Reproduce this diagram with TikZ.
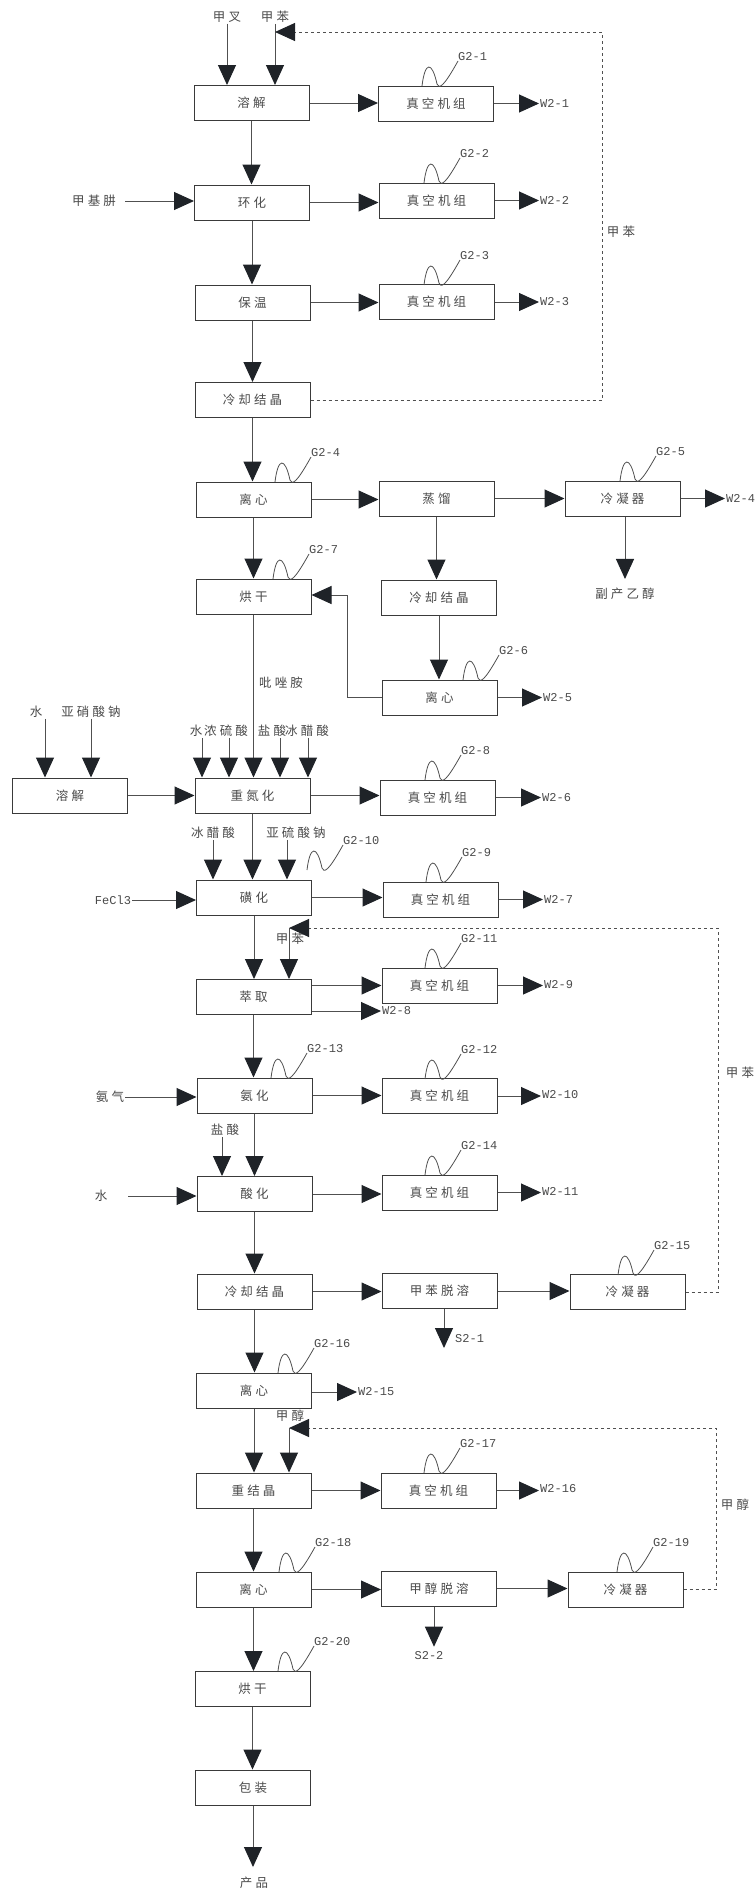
\documentclass[tikz,border=0pt]{standalone}
\usepackage{fontspec}
\usetikzlibrary{arrows.meta,calc}
\newfontfamily\cjk[LetterSpace=25]{Noto Sans CJK SC}
\newfontfamily\lat{Liberation Mono}
\definecolor{txt}{HTML}{4A4A4A}
\definecolor{edgec}{HTML}{3A3A3A}
\definecolor{lnc}{HTML}{505050}
\definecolor{tipc}{HTML}{1F2328}
\tikzset{
  box/.style={draw=edgec, line width=1pt, minimum width=115pt, minimum height=35pt, inner sep=0pt,
    font=\cjk\fontsize{12.5}{12.5}\selectfont, text=txt},
  lbl/.style={font=\cjk\fontsize{12.5}{12.5}\selectfont, text=txt, inner sep=1pt},
  code/.style={font=\lat\fontsize{12}{12}\selectfont, text=txt, inner sep=1pt},
  arr/.style={draw=lnc, line width=1pt, -{Triangle[length=20pt,width=18pt,color=tipc]}},
  dasharr/.style={arr, dash pattern=on 3pt off 3pt},
  wave/.style={draw=lnc, line width=0.8pt},
}
\newcommand{\gwave}[4]{%
  \begin{scope}[shift={(#2,#3)}]
    \draw[wave] (0,0) .. controls (3,-25) and (10,-25) .. (15,-2) .. controls (17,3) and (21,2) .. (36,-25);
    \node[code,anchor=west] (#1) at (35,-29) {#4};
  \end{scope}}
\begin{document}
\begin{tikzpicture}[x=1pt,y=-1pt]
\useasboundingbox (0,0) rectangle (755,1890);
% main column
\node[box] (A1) at (251.5,103) {溶解};
\node[box] (A2) at (252,202.5) {环化};
\node[box] (A3) at (252.5,302.5) {保温};
\node[box] (A4) at (252.5,400) {冷却结晶};
\node[box] (A5) at (253.5,499.5) {离心};
\node[box] (A6) at (253.5,596.5) {烘干};
\node[box] (A7) at (252.5,795.5) {重氮化};
\node[box] (A8) at (254,897.5) {磺化};
\node[box] (A9) at (253.5,997) {萃取};
\node[box] (A10) at (254.5,1095.5) {氨化};
\node[box] (A11) at (254.5,1194) {酸化};
\node[box] (A12) at (254.5,1291.5) {冷却结晶};
\node[box] (A13) at (254,1390.5) {离心};
\node[box] (A14) at (253.5,1490.5) {重结晶};
\node[box] (A15) at (253.5,1589.5) {离心};
\node[box] (A16) at (252.5,1689) {烘干};
\node[box] (A17) at (253,1787.5) {包装};
% second column
\node[box] (V1) at (436,103.5) {真空机组};
\node[box] (V2) at (436.5,200.5) {真空机组};
\node[box] (V3) at (436.5,302) {真空机组};
\node[box] (B1) at (436.5,498.5) {蒸馏};
\node[box] (B2) at (439,597.5) {冷却结晶};
\node[box] (B3) at (439.5,697.5) {离心};
\node[box] (V8) at (437.5,797.5) {真空机组};
\node[box] (V9) at (440.5,899.5) {真空机组};
\node[box] (V11) at (439.5,985.5) {真空机组};
\node[box] (V12) at (439.5,1096) {真空机组};
\node[box] (V14) at (439.5,1192.5) {真空机组};
\node[box] (C1) at (439.5,1291) {甲苯脱溶};
\node[box] (V17) at (438.5,1490.5) {真空机组};
\node[box] (C2) at (439,1588.5) {甲醇脱溶};
% third column
\node[box] (K1) at (622.5,498.5) {冷凝器};
\node[box] (K2) at (627.5,1292) {冷凝器};
\node[box] (K3) at (625.5,1589.5) {冷凝器};
% left box
\node[box] (L) at (70,795.5) {溶解};

% ---------- labels ----------
\node[lbl] (jc) at (227,17) {甲叉};
\node[lbl] (jb1) at (275,17) {甲苯};
\node[lbl] (jb1r) at (621,232) {甲苯};
\node[lbl] (jjf) at (94,201) {甲基肼};
\node[lbl,inner ysep=9pt] (fc) at (625,594) {副产乙醇};
\node[lbl] (pza) at (281,683) {吡唑胺};
\node[lbl] (lw) at (36,712) {水};
\node[lbl] (lna) at (91,712) {亚硝酸钠};
\node[lbl] (iw) at (196,731) {水};
\node[lbl] (ih) at (226,731) {浓硫酸};
\node[lbl] (iy) at (272,731) {盐酸};
\node[lbl] (ib) at (307,731) {冰醋酸};
\node[lbl] (bc2) at (213,833) {冰醋酸};
\node[lbl] (yls) at (296,833) {亚硫酸钠};
\node[code] (fe) at (113,900) {FeCl3};
\node[lbl] (jb2) at (290,939) {甲苯};
\node[lbl] (jb2r) at (740,1073) {甲苯};
\node[lbl] (aq) at (110,1097) {氨气};
\node[lbl] (ys2) at (225,1130) {盐酸};
\node[lbl] (sw) at (101,1196) {水};
\node[lbl] (jc2) at (290,1416) {甲醇};
\node[lbl] (jc2r) at (735,1505) {甲醇};
\node[lbl,inner ysep=10pt] (cp) at (254,1883) {产品};

\node[code,anchor=west] (w1) at (539,103) {W2-1};
\node[code,anchor=west] (w2) at (539,200.5) {W2-2};
\node[code,anchor=west] (w3) at (539,302) {W2-3};
\node[code,anchor=west] (w4) at (725,498.5) {W2-4};
\node[code,anchor=west] (w5) at (542,697.5) {W2-5};
\node[code,anchor=west] (w6) at (541,797.5) {W2-6};
\node[code,anchor=west] (w7) at (543,899) {W2-7};
\node[code,anchor=west] (w9) at (543,984.5) {W2-9};
\node[code,anchor=west] (w8) at (381,1011) {W2-8};
\node[code,anchor=west] (w10) at (541,1095) {W2-10};
\node[code,anchor=west] (w11) at (541,1191) {W2-11};
\node[code,anchor=west] (w15) at (357,1392) {W2-15};
\node[code,anchor=west] (w16) at (539,1488.5) {W2-16};
\node[code,anchor=west] (s1) at (454,1339) {S2-1};
\node[code,inner ysep=5pt] (s2) at (429,1656) {S2-2};
\coordinate (s1tip) at (444,1348);

% ---------- top section ----------
\draw[arr] (jc.south) -- (jc.south |- A1.north);
\draw[arr] (jb1.south) -- (jb1.south |- A1.north);
\draw[dasharr] (A4.east) -- (602,0 |- A4.east) -- (602,32) -- (jb1.south |- 0,32);
\draw[arr] (A1.east) -- (A1.east -| V1.west);
\draw[arr] (V1.east) -- (V1.east -| w1.west);
\draw[arr] (A1.south) -- (A1.south |- A2.north);
\draw[arr] (jjf.east -| 125,0) -- (jjf.east -| A2.west);
\draw[arr] (A2.east) -- (A2.east -| V2.west);
\draw[arr] (V2.east) -- (V2.east -| w2.west);
\draw[arr] (A2.south) -- (A2.south |- A3.north);
\draw[arr] (A3.east) -- (A3.east -| V3.west);
\draw[arr] (V3.east) -- (V3.east -| w3.west);
\draw[arr] (A3.south) -- (A3.south |- A4.north);
\draw[arr] (A4.south) -- (A4.south |- A5.north);
\draw[arr] (A5.east) -- (A5.east -| B1.west);
\draw[arr] (B1.east) -- (B1.east -| K1.west);
\draw[arr] (K1.east) -- (K1.east -| w4.west);
\draw[arr] (K1.south -| fc) -- (fc.north);
\draw[arr] (B1.south) -- (B1.south |- B2.north);
\draw[arr] (B2.south) -- (B2.south |- B3.north);
\draw[arr] (B3.east) -- (B3.east -| w5.west);
\draw[arr] (B3.west) -- (347,0 |- B3.west) -- (347,595) -- (A6.east |- 0,595);
\draw[arr] (A5.south) -- (A5.south |- A6.north);

% ---------- diazotisation ----------
\draw[arr] (A6.south) -- (A6.south |- A7.north);
\draw[arr] (lw.south -| 45,0) -- (45,0 |- L.north);
\draw[arr] (lna.south) -- (lna.south |- L.north);
\draw[arr] (iw.south -| 202,0) -- (202,0 |- A7.north);
\draw[arr] (ih.south -| 229,0) -- (229,0 |- A7.north);
\draw[arr] (iy.south -| 280,0) -- (280,0 |- A7.north);
\draw[arr] (ib.south -| 308,0) -- (308,0 |- A7.north);
\draw[arr] (L.east) -- (L.east -| A7.west);
\draw[arr] (A7.east) -- (A7.east -| V8.west);
\draw[arr] (V8.east) -- (V8.east -| w6.west);

% ---------- sulfonation ----------
\draw[arr] (A7.south) -- (A7.south |- A8.north);
\draw[arr] (bc2.south) -- (bc2.south |- A8.north);
\draw[arr] (yls.south -| 287,0) -- (287,0 |- A8.north);
\draw[arr] (fe.east) -- (fe.east -| A8.west);
\draw[arr] (A8.east) -- (A8.east -| V9.west);
\draw[arr] (V9.east) -- (V9.east -| w7.west);
\draw[arr] (A8.south) -- (A8.south |- A9.north);

% ---------- extraction ----------
\coordinate (m2) at (289,928);
\draw[dasharr] (K2.east) -- (718,0 |- K2.east) -- (718,928) -- (m2);
\draw[arr] (m2) -- (m2 |- A9.north);
\draw[arr] (A9.east |- V11.west) -- (V11.west);
\draw[arr] (V11.east) -- (V11.east -| w9.west);
\draw[arr] (A9.east |- w8.west) -- (w8.west);
\draw[arr] (A9.south) -- (A9.south |- A10.north);

% ---------- amination / acidification ----------
\draw[arr] (aq.east) -- (aq.east -| A10.west);
\draw[arr] (A10.east) -- (A10.east -| V12.west);
\draw[arr] (V12.east) -- (V12.east -| w10.west);
\draw[arr] (A10.south) -- (A10.south |- A11.north);
\draw[arr] (ys2.south -| 222,0) -- (222,0 |- A11.north);
\draw[arr] (sw.east -| 128,0) -- (sw.east -| A11.west);
\draw[arr] (A11.east) -- (A11.east -| V14.west);
\draw[arr] (V14.east) -- (V14.east -| w11.west);
\draw[arr] (A11.south) -- (A11.south |- A12.north);

% ---------- toluene removal ----------
\draw[arr] (A12.east) -- (A12.east -| C1.west);
\draw[arr] (C1.east) -- (C1.east -| K2.west);
\draw[arr] (s1tip |- C1.south) -- (s1tip);
\draw[arr] (A12.south) -- (A12.south |- A13.north);
\draw[arr] (A13.east |- w15.west) -- (w15.west);
\draw[arr] (A13.south) -- (A13.south |- A14.north);

% ---------- recrystallisation ----------
\coordinate (m3) at (289,1428);
\draw[dasharr] (K3.east) -- (716,0 |- K3.east) -- (716,1428) -- (m3);
\draw[arr] (m3) -- (m3 |- A14.north);
\draw[arr] (A14.east) -- (A14.east -| V17.west);
\draw[arr] (V17.east) -- (V17.east -| w16.west);
\draw[arr] (A14.south) -- (A14.south |- A15.north);
\draw[arr] (A15.east) -- (A15.east -| C2.west);
\draw[arr] (C2.east) -- (C2.east -| K3.west);
\draw[arr] (434,0 |- C2.south) -- (434,0 |- s2.north);
\draw[arr] (A15.south) -- (A15.south |- A16.north);
\draw[arr] (A16.south) -- (A16.south |- A17.north);
\draw[arr] (A17.south) -- (A17.south |- cp.north);

% ---------- G waves ----------
\gwave{g1}{422}{86}{G2-1}
\gwave{g2}{424}{183}{G2-2}
\gwave{g3}{424}{285}{G2-3}
\gwave{g4}{275}{482}{G2-4}
\gwave{g5}{620}{481}{G2-5}
\gwave{g6}{463}{680}{G2-6}
\gwave{g7}{273}{579}{G2-7}
\gwave{g8}{425}{780}{G2-8}
\gwave{g9}{426}{882}{G2-9}
\gwave{g10}{307}{870}{G2-10}
\gwave{g11}{425}{968}{G2-11}
\gwave{g12}{425}{1079}{G2-12}
\gwave{g13}{271}{1078}{G2-13}
\gwave{g14}{425}{1175}{G2-14}
\gwave{g15}{618}{1275}{G2-15}
\gwave{g16}{278}{1373}{G2-16}
\gwave{g17}{424}{1473}{G2-17}
\gwave{g18}{279}{1572}{G2-18}
\gwave{g19}{617}{1572}{G2-19}
\gwave{g20}{278}{1671}{G2-20}
\end{tikzpicture}
\end{document}
